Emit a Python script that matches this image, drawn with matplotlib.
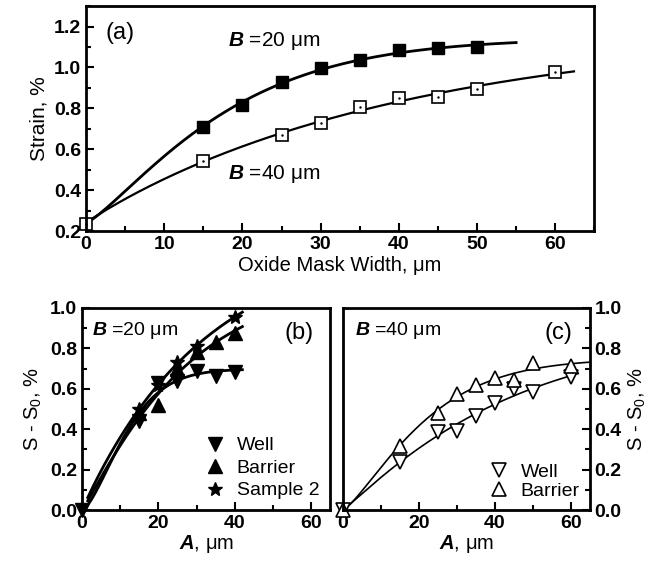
import numpy as np
import matplotlib
matplotlib.use("Agg")
import matplotlib.pyplot as plt
from matplotlib.ticker import MultipleLocator

plt.rcParams["font.family"] = "Liberation Sans"
plt.rcParams["mathtext.fontset"] = "custom"
plt.rcParams["mathtext.rm"] = "Liberation Sans"
plt.rcParams["mathtext.it"] = "Liberation Sans:italic"
plt.rcParams["mathtext.bf"] = "Liberation Sans:italic:bold"

# (a) strain vs oxide mask width
s0 = 0.24
x_b20 = [15, 20, 25, 30, 35, 40, 45, 50]
y_b20 = [0.707, 0.815, 0.927, 0.998, 1.038, 1.084, 1.093, 1.10]
x_b40 = [0, 15, 25, 30, 35, 40, 45, 50, 60]
y_b40 = [0.236, 0.542, 0.671, 0.729, 0.808, 0.850, 0.856, 0.894, 0.977]

# (b) B = 20 um
xb_well = [0, 15, 20, 25, 30, 35, 40]
yb_well = [0.0, 0.44, 0.63, 0.64, 0.69, 0.665, 0.685]
xb_bar = [15, 20, 25, 30, 35, 40]
yb_bar = [0.48, 0.52, 0.70, 0.78, 0.83, 0.876]
xb_s2 = [15, 20, 25, 30, 40]
yb_s2 = [0.50, 0.62, 0.73, 0.81, 0.957]

# (c) B = 40 um
xc = [0, 15, 25, 30, 35, 40, 45, 50, 60]
yc_well = [0.0, 0.239, 0.388, 0.391, 0.465, 0.531, 0.60, 0.586, 0.66]
yc_bar = [0.0, 0.317, 0.48, 0.574, 0.619, 0.653, 0.644, 0.726, 0.713]


def sat_fit(x, y, y0, x0, x1, pmax=1.3):
    # least squares fit of y = y0 + A*(1 - exp(-(x/t)^p)), grid over t, p
    x = np.asarray(x, float)
    y = np.asarray(y, float) - y0
    best = None
    for t in np.linspace(4, 150, 293):
        for p in np.linspace(0.8, pmax, 21):
            f = 1 - np.exp(-(x / t) ** p)
            a = (y * f).sum() / (f * f).sum()
            r = ((y - a * f) ** 2).sum()
            if best is None or r < best[0]:
                best = (r, a, t, p)
    _, a, t, p = best
    xs = np.linspace(x0, x1, 200)
    return xs, y0 + a * (1 - np.exp(-(xs / t) ** p))


def style(ax, fs):
    for sp in ax.spines.values():
        sp.set_linewidth(2.0)
    ax.tick_params(which="major", direction="in", length=6, width=1.5, labelsize=fs)
    ax.tick_params(which="minor", direction="in", length=3.5, width=1.5)
    for lab in ax.get_xticklabels() + ax.get_yticklabels():
        lab.set_fontweight("bold")


fig = plt.figure(figsize=(6.67, 5.71), dpi=100)

# ---- panel (a)
ax = fig.add_axes([0.129, 0.5954, 0.762, 0.394])
xs, ys = sat_fit([0] + x_b20, [s0] + y_b20, s0, 0, 55, pmax=1.25)
ax.plot(xs, ys, color="black", lw=2.0)
xs, ys = sat_fit(x_b40, y_b40, s0, 0, 62.4, pmax=1.1)
ax.plot(xs, ys, color="black", lw=1.6)
ax.plot(x_b20, y_b20, ls="none", marker="s", ms=8, color="black", clip_on=False)
ax.plot(x_b40, y_b40, ls="none", marker="s", ms=8, mfc="white", mec="black",
        mew=1.2, clip_on=False)
ax.plot(x_b40, y_b40, ls="none", marker=".", ms=1.5, color="black", clip_on=False)
ax.set_xlim(0, 65)
ax.set_ylim(0.2, 1.3)
ax.xaxis.set_major_locator(MultipleLocator(10))
ax.xaxis.set_minor_locator(MultipleLocator(5))
ax.yaxis.set_major_locator(MultipleLocator(0.2))
ax.yaxis.set_minor_locator(MultipleLocator(0.1))
ax.set_xlabel("Oxide Mask Width, μm", fontsize=14.5, labelpad=2)
ax.set_ylabel("Strain, %", fontsize=15, labelpad=4)
style(ax, 14)
ax.text(2.5, 1.17, "(a)", fontsize=17, va="center")
ax.text(18.1, 1.13, r"$\mathbf{B}$ =20 μm", fontsize=15, va="center")
ax.text(18.1, 0.48, r"$\mathbf{B}$ =40 μm", fontsize=15, va="center")

# ---- panel (b)
axb = fig.add_axes([0.123, 0.1068, 0.372, 0.354])
xs, ys = sat_fit(xb_well, yb_well, 0, 1.5, 42, pmax=1.5)
axb.plot(xs, ys, color="black", lw=2.0)
xs, ys = sat_fit([0] + xb_bar, [0] + yb_bar, 0, 1.5, 42, pmax=1.1)
axb.plot(xs, ys, color="black", lw=2.0)
xs, ys = sat_fit([0] + xb_s2, [0] + yb_s2, 0, 1.5, 42, pmax=1.1)
axb.plot(xs, ys, color="black", lw=2.0)
axb.plot(xb_well, yb_well, ls="none", marker="v", ms=10, color="black",
         clip_on=False, label="Well")
axb.plot(xb_bar, yb_bar, ls="none", marker="^", ms=10, color="black",
         clip_on=False, label="Barrier")
axb.plot(xb_s2, yb_s2, ls="none", marker="*", ms=10, color="black",
         clip_on=False, label="Sample 2")
axb.set_xlim(0, 65)
axb.set_ylim(0, 1.0)
axb.xaxis.set_major_locator(MultipleLocator(20))
axb.xaxis.set_minor_locator(MultipleLocator(10))
axb.yaxis.set_major_locator(MultipleLocator(0.2))
axb.yaxis.set_minor_locator(MultipleLocator(0.1))
axb.set_xlabel(r"$\mathbf{A}$, μm", fontsize=14.5, labelpad=1)
axb.set_ylabel(r"S - S$_0$, %", fontsize=14.5, labelpad=4)
style(axb, 14)
axb.text(2.6, 0.89, r"$\mathbf{B}$ =20 μm", fontsize=14, va="center")
axb.text(53, 0.875, "(b)", fontsize=17, va="center")
axb.legend(loc="lower right", frameon=False, fontsize=14, handletextpad=0.5,
           labelspacing=0.25, borderaxespad=0.15, handlelength=1.2)

# ---- panel (c)
axc = fig.add_axes([0.514, 0.1068, 0.370, 0.354])
xs, ys = sat_fit(xc, yc_bar, 0, 0, 65)
axc.plot(xs, ys, color="black", lw=1.2)
xs, ys = sat_fit(xc, yc_well, 0, 0, 62)
axc.plot(xs, ys, color="black", lw=1.2)
axc.plot(xc, yc_well, ls="none", marker="v", ms=10, mfc="white", mec="black",
         mew=1.2, clip_on=False, label="Well")
axc.plot(xc, yc_bar, ls="none", marker="^", ms=10, mfc="white", mec="black",
         mew=1.2, clip_on=False, label="Barrier")
axc.set_xlim(0, 65)
axc.set_ylim(0, 1.0)
axc.xaxis.set_major_locator(MultipleLocator(20))
axc.xaxis.set_minor_locator(MultipleLocator(10))
axc.yaxis.set_major_locator(MultipleLocator(0.2))
axc.yaxis.set_minor_locator(MultipleLocator(0.1))
axc.yaxis.tick_right()
axc.yaxis.set_label_position("right")
axc.set_xlabel(r"$\mathbf{A}$, μm", fontsize=14.5, labelpad=1)
axc.set_ylabel(r"S - S$_0$, %", fontsize=14.5, labelpad=4)
style(axc, 14)
axc.text(3.2, 0.89, r"$\mathbf{B}$ =40 μm", fontsize=14, va="center")
axc.text(53, 0.875, "(c)", fontsize=17, va="center")
axc.legend(loc="lower right", frameon=False, fontsize=14, handletextpad=0.5,
           labelspacing=0.1, borderaxespad=0.1, handlelength=1.2)

fig.savefig("out.png", dpi=100)
